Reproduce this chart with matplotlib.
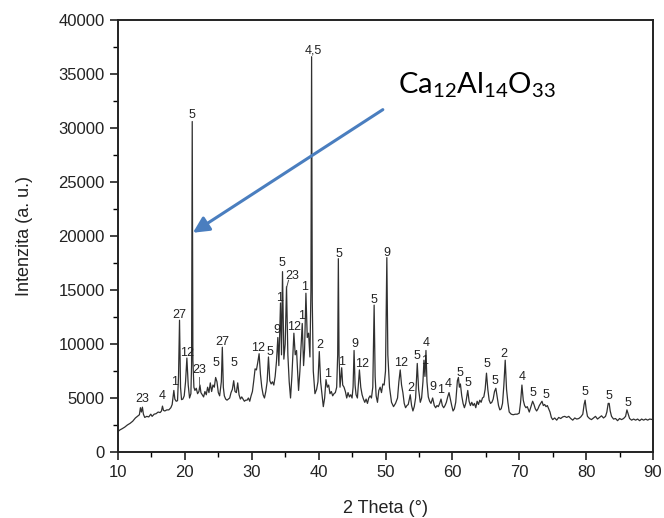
import matplotlib
matplotlib.use("Agg")
import matplotlib.pyplot as plt
from matplotlib.ticker import MultipleLocator

plt.rcParams['font.family'] = ['Liberation Sans', 'DejaVu Sans']

# ---- data ----
two_theta = [
    10.0, 10.3, 10.6, 11.0, 11.4, 11.8, 12.2, 12.6, 13.0, 13.2, 13.35, 13.5, 13.65, 13.8, 14.0, 14.3, 14.6, 14.9,
    15.1, 15.4, 15.7, 16.0, 16.3, 16.5, 16.65, 16.8, 17.0, 17.3, 17.6, 17.9, 18.1, 18.35, 18.5, 18.7, 18.9, 19.05,
    19.2, 19.35, 19.5, 19.7, 19.9, 20.1, 20.3, 20.5, 20.7, 20.9, 21.0, 21.1, 21.2, 21.35, 21.5, 21.7, 21.9, 22.1,
    22.25, 22.4, 22.6, 22.8, 23.0, 23.2, 23.4, 23.6, 23.8, 24.0, 24.2, 24.4, 24.6, 24.8, 25.0, 25.2, 25.45, 25.6,
    25.75, 25.9, 26.1, 26.3, 26.5, 26.7, 26.9, 27.1, 27.3, 27.5, 27.7, 27.9, 28.1, 28.3, 28.5, 28.7, 28.9, 29.1,
    29.3, 29.5, 29.7, 29.9, 30.1, 30.3, 30.5, 30.7, 30.9, 31.1, 31.3, 31.5, 31.7, 31.9, 32.1, 32.3, 32.5, 32.7,
    32.9, 33.1, 33.3, 33.5, 33.7, 33.9, 34.05, 34.3, 34.45, 34.6, 34.8, 35.0, 35.2, 35.4, 35.6, 35.8, 36.0, 36.3,
    36.5, 36.7, 37.0, 37.2, 37.35, 37.55, 37.75, 37.9, 38.1, 38.3, 38.5, 38.7, 38.85, 38.95, 39.05, 39.2, 39.45, 39.7,
    39.9, 40.1, 40.3, 40.5, 40.7, 40.9, 41.1, 41.3, 41.5, 41.7, 41.9, 42.1, 42.3, 42.5, 42.7, 42.85, 42.95, 43.05,
    43.2, 43.45, 43.6, 43.8, 44.0, 44.2, 44.4, 44.6, 44.8, 45.0, 45.15, 45.3, 45.45, 45.6, 45.8, 46.1, 46.3, 46.5,
    46.7, 46.9, 47.1, 47.3, 47.5, 47.7, 47.9, 48.1, 48.3, 48.45, 48.6, 48.8, 49.0, 49.2, 49.4, 49.6, 49.8, 50.0,
    50.2, 50.35, 50.6, 50.9, 51.2, 51.5, 51.8, 52.0, 52.2, 52.4, 52.6, 52.8, 53.0, 53.2, 53.4, 53.7, 53.9, 54.1,
    54.3, 54.5, 54.75, 54.95, 55.2, 55.4, 55.6, 55.75, 55.9, 56.05, 56.2, 56.4, 56.6, 56.8, 57.05, 57.3, 57.5, 57.7,
    57.9, 58.1, 58.3, 58.5, 58.7, 58.9, 59.1, 59.3, 59.5, 59.7, 59.9, 60.1, 60.3, 60.5, 60.75, 60.9, 61.05, 61.2,
    61.4, 61.6, 61.8, 62.0, 62.3, 62.5, 62.7, 62.9, 63.1, 63.3, 63.5, 63.7, 63.9, 64.1, 64.3, 64.5, 64.7, 64.9,
    65.1, 65.3, 65.5, 65.7, 65.9, 66.1, 66.3, 66.5, 66.7, 66.9, 67.1, 67.3, 67.5, 67.7, 67.9, 68.1, 68.3, 68.5,
    68.8, 69.1, 69.4, 69.7, 70.0, 70.2, 70.4, 70.6, 70.8, 71.0, 71.2, 71.5, 71.8, 72.0, 72.2, 72.4, 72.6, 72.8,
    73.0, 73.2, 73.4, 73.6, 73.8, 74.0, 74.2, 74.4, 74.6, 74.8, 75.0, 75.3, 75.6, 75.9, 76.2, 76.5, 76.8, 77.1,
    77.4, 77.7, 78.0, 78.3, 78.6, 78.9, 79.2, 79.5, 79.7, 79.85, 80.0, 80.2, 80.5, 80.8, 81.1, 81.4, 81.7, 82.0,
    82.3, 82.6, 82.9, 83.1, 83.3, 83.45, 83.6, 83.8, 84.1, 84.4, 84.7, 85.0, 85.3, 85.6, 85.9, 86.1, 86.3, 86.5,
    86.8, 87.1, 87.4, 87.7, 88.0, 88.3, 88.6, 88.9, 89.2, 89.5, 90.0,
]
intensity = [
    1900, 2050, 2150, 2300, 2500, 2650, 2850, 3150, 3350, 3450, 4100, 3700, 4150, 3500, 3200, 3300, 3250, 3500,
    3300, 3500, 3550, 3700, 3650, 3800, 4250, 3850, 3800, 3900, 3900, 4100, 4400, 5700, 4900, 4700, 4750, 7000,
    12200, 6000, 4850, 4900, 5200, 6500, 8700, 6200, 5000, 5400, 8000, 30600, 8500, 6000, 5700, 5900, 5400, 5600,
    6200, 5500, 5300, 5100, 5600, 5300, 6000, 5500, 6400, 5600, 6200, 6000, 6900, 6500, 5500, 5200, 6500, 9700,
    6000, 5200, 4900, 4800, 4900, 5000, 5500, 5800, 6600, 5600, 5500, 6400, 5300, 4900, 5100, 4900, 4700, 4800,
    4800, 5000, 4700, 5200, 5600, 6600, 7700, 7600, 8300, 9100, 7200, 6000, 5300, 5000, 5600, 6500, 8800, 6600,
    6300, 6500, 6200, 7000, 8400, 10600, 8000, 13800, 9000, 16700, 8600, 10000, 15300, 9000, 6500, 5000, 7000, 11000,
    9000, 9400, 5700, 7500, 9500, 11900, 8000, 9500, 14700, 10600, 11000, 8800, 15000, 36600, 14000, 7500, 5400, 5800,
    6500, 9300, 6500, 5300, 4200, 5000, 6700, 6000, 6200, 5400, 5600, 5200, 5400, 5500, 6000, 9000, 17900, 9000,
    6000, 7800, 6200, 6000, 5600, 5000, 5500, 5100, 5300, 5000, 6000, 9400, 6200, 5300, 5000, 7600, 6000, 5300,
    4900, 4600, 4900, 4500, 5000, 5200, 5000, 6000, 13600, 7000, 5200, 4600, 5700, 6000, 5500, 6300, 6200, 7500,
    18000, 9000, 6000, 4600, 4200, 4500, 5000, 6500, 7600, 6200, 5500, 4500, 4100, 4300, 4400, 5300, 4300, 3800,
    4200, 5000, 8200, 5800, 4600, 5000, 6500, 8500, 7000, 9400, 6500, 5100, 4700, 4500, 5000, 4300, 4100, 4300,
    4200, 4500, 4900, 4300, 4100, 4300, 4600, 5100, 5500, 4900, 4300, 3800, 4000, 4600, 6600, 6900, 6000, 6300,
    5200, 4500, 4100, 4500, 5700, 4700, 4300, 4600, 4300, 4500, 4100, 4700, 4400, 4800, 4600, 5000, 5100, 5800,
    7300, 5800, 4800, 4500, 4600, 4900, 5600, 5900, 5100, 4300, 3900, 4000, 4500, 6200, 8500, 5800, 4600, 3700,
    3500, 3450, 3500, 3500, 3600, 4600, 6200, 4800, 4300, 4100, 4200, 3700, 4300, 4700, 4400, 4000, 3800, 4000,
    4300, 4500, 4700, 4300, 4400, 4200, 4300, 4000, 3700, 3200, 3000, 3150, 2950, 3200, 3100, 3250, 3300, 3200,
    3300, 3100, 2950, 3150, 3050, 3100, 3250, 3500, 4400, 4800, 4000, 3300, 3100, 3000, 3150, 3300, 3050, 3200,
    3350, 3150, 3300, 3700, 4500, 4500, 3800, 3300, 3050, 3100, 2900, 3100, 3000, 3100, 3300, 3900, 3500, 3100,
    2950, 3050, 2950, 3050, 2900, 3050, 2950, 3050, 2950, 3050, 3000,
]

peak_labels = ["23", "4", "1", "27", "12", "5", "23", "5", "27", "5", "12", "5", "9", "1", "5", "23",
               "12", "1", "1", "4,5", "2", "1", "5", "1", "9", "12", "5", "9", "12", "2", "5", "1",
               "4", "9", "1", "4", "5", "5", "5", "5", "2", "4", "5", "5", "5", "5", "5"]
label_x = [13.6, 16.6, 18.4, 19.1, 20.3, 21.1, 22.1, 24.65, 25.6, 27.3, 30.9, 32.7, 33.7, 34.1, 34.5, 36.1,
           36.3, 37.5, 37.95, 39.2, 40.2, 41.3, 43.1, 43.45, 45.4, 46.5, 48.2, 50.2, 52.3, 53.75, 54.75, 55.8,
           56.05, 57.15, 58.25, 59.4, 61.1, 62.4, 65.2, 66.4, 67.75, 70.4, 72.0, 73.95, 79.8, 83.45, 86.2]
label_y = [4900, 5190, 6480, 12700, 9170, 31200, 7600, 8240, 10200, 8240, 9660, 9290, 11300, 14230, 17470, 16320,
           11550, 12620, 15300, 37200, 9900, 7220, 18330, 8360, 9970, 8150, 14070, 18450, 8270, 5900, 8890, 8430,
           10060, 6050, 5740, 6300, 7340, 6420, 8150, 6600, 9070, 6970, 5430, 5280, 5580, 5190, 4570]

x_ticks = [10, 20, 30, 40, 50, 60, 70, 80, 90]
y_ticks = [0, 5000, 10000, 15000, 20000, 25000, 30000, 35000, 40000]

compound = r'Ca$\mathregular{_{12}}$Al$\mathregular{_{14}}$O$\mathregular{_{33}}$'

# ---- figure ----
fig = plt.figure(figsize=(6.64, 5.18), dpi=100)
ax = fig.add_axes([118 / 664, 1 - 452 / 518, (653 - 118) / 664, (452 - 20) / 518])

ax.plot(two_theta, intensity, color='#303030', lw=0.9)

for t, x, y in zip(peak_labels, label_x, label_y):
    ax.text(x, y, t, ha='center', va='center', fontsize=9, color='#222222')

# small leader lines
ax.plot([35.2, 35.5], [15200, 15900], color='#444444', lw=0.7)
ax.plot([22.15, 22.15], [6300, 6950], color='#666666', lw=0.7)

ax.set_xlim(10, 90)
ax.set_ylim(0, 40000)
ax.set_xticks(x_ticks)
ax.set_yticks(y_ticks)
ax.xaxis.set_minor_locator(MultipleLocator(5))
ax.yaxis.set_minor_locator(MultipleLocator(2500))
ax.tick_params(axis='both', which='major', direction='out', length=6, width=1.2,
               labelsize=12, colors='#222222', top=False, right=False)
ax.tick_params(axis='both', which='minor', direction='out', length=3.5, width=1.0,
               top=False, right=False)
for s in ax.spines.values():
    s.set_linewidth(1.4)
    s.set_color('#222222')

ax.set_xlabel('2 Theta (°)', fontsize=13, color='#222222', labelpad=14)
ax.set_ylabel('Intenzita (a. u.)', fontsize=13, color='#222222', labelpad=18)

ax.annotate('', xy=(21.2, 20300), xytext=(49.6, 31700),
            arrowprops=dict(arrowstyle='-|>', color='#4a7ebf', lw=2.2,
                            mutation_scale=24, shrinkA=0, shrinkB=0))
ax.text(51.9, 33240, compound, fontsize=21, family=['Lato', 'DejaVu Sans'],
        ha='left', va='baseline', color='black')

fig.savefig('out.png', dpi=100)
